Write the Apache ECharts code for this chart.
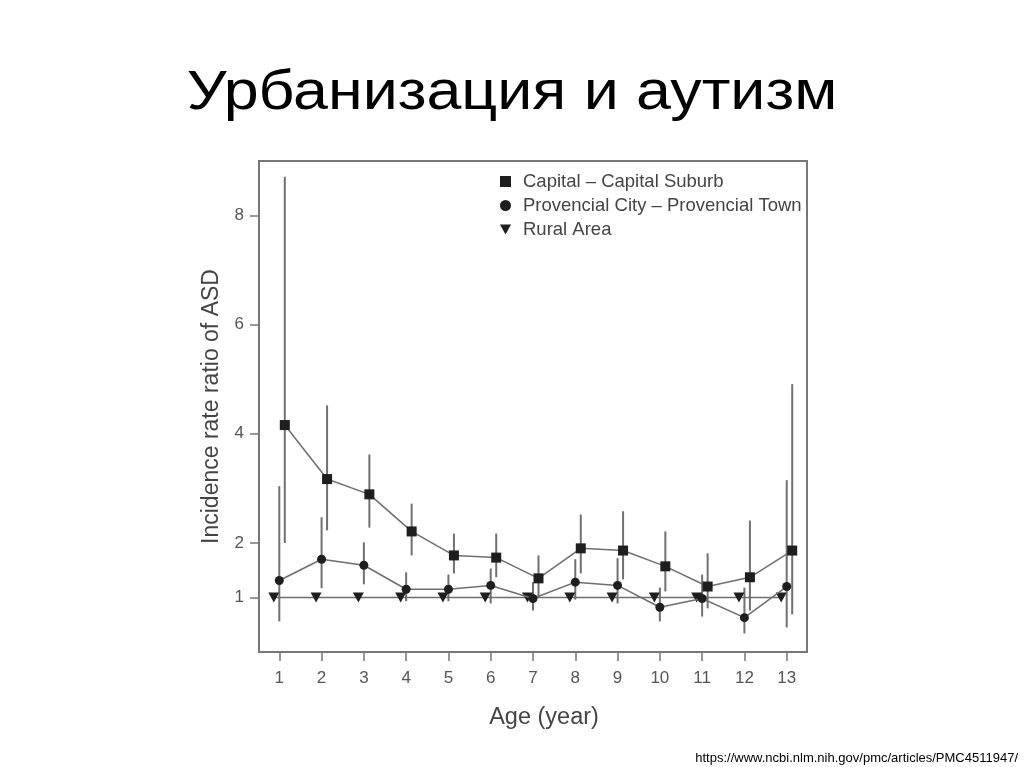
<!DOCTYPE html>
<html>
<head>
<meta charset="utf-8">
<script src="https://cdn.jsdelivr.net/npm/echarts@6/dist/echarts.min.js"></script>
<style>
html,body{margin:0;padding:0;background:#fff;}
#c{width:1024px;height:767px;}
</style>
</head>
<body>
<div id="c"></div>
<script>
var ages = [1,2,3,4,5,6,7,8,9,10,11,12,13];
var capital     = [4.16,3.17,2.89,2.21,1.77,1.73,1.35,1.90,1.86,1.57,1.20,1.37,1.86];
var capitalLow  = [2.00,2.23,2.28,1.77,1.44,1.37,1.02,1.44,1.33,1.11,0.80,0.76,0.69];
var capitalHigh = [8.71,4.52,3.62,2.72,2.17,2.17,1.77,2.52,2.58,2.21,1.81,2.41,4.91];
var province     = [1.31,1.70,1.59,1.15,1.15,1.22,0.98,1.28,1.22,0.82,0.98,0.63,1.20];
var provinceLow  = [0.56,1.17,1.24,0.93,0.93,0.89,0.76,0.96,0.89,0.56,0.65,0.34,0.45];
var provinceHigh = [3.04,2.47,2.01,1.46,1.42,1.53,1.28,1.70,1.72,1.18,1.42,1.18,3.15];
var rural = [1,1,1,1,1,1,1,1,1,1,1,1,1];
var yTicks = [1,2,4,6,8];
var seriesNames = ['Capital – Capital Suburb','Provencial City – Provencial Town','Rural Area'];
var titleText = 'Урбанизация и аутизм';
var sourceText = 'https://www.ncbi.nlm.nih.gov/pmc/articles/PMC4511947/';

var OFF_CAP = 0.13, OFF_PROV = 0, OFF_RUR = -0.13;
var triDown = 'path://M0,0 L10,0 L5,9 Z';
var markColor = '#1e1e1e', lineColor = '#6e6e6e';

function pts(vals, off){ return ages.map(function(a,i){ return [a+off, vals[i]]; }); }
function bars(lo, hi, off){ return ages.map(function(a,i){ return [a+off, lo[i], hi[i]]; }); }

function errRender(params, api){
  var x = api.value(0);
  var p1 = api.coord([x, api.value(1)]);
  var p2 = api.coord([x, api.value(2)]);
  return {type:'line', shape:{x1:p1[0],y1:p1[1],x2:p2[0],y2:p2[1]},
          style:{stroke:'#707070', lineWidth:2}};
}

var chart = echarts.init(document.getElementById('c'));
var font = 'Liberation Sans, Arial, sans-serif';
chart.setOption({
  backgroundColor:'#fff',
  animation:false,
  graphic:[
    {type:'text', x:512, y:66, scaleX:1.12, scaleY:1,
      style:{text:titleText, fontFamily:font, fontSize:56, fill:'#000', textAlign:'center', textVerticalAlign:'top'}},
    {type:'text', right:6, bottom:2,
      style:{text:sourceText, fontFamily:font, fontSize:13, fill:'#000'}}
  ],
  legend:{orient:'vertical', left:495, top:167, itemGap:5, itemWidth:11, itemHeight:11,
    textStyle:{fontFamily:font, fontSize:18.5, lineHeight:18, color:'#444', padding:[0,0,0,7]},
    data:[{name:seriesNames[0], icon:'rect', itemStyle:{color:markColor}},
          {name:seriesNames[1], icon:'circle', itemStyle:{color:markColor}},
          {name:seriesNames[2], icon:triDown, itemStyle:{color:markColor}}]},
  grid:{left:259, right:217, top:161, bottom:115, show:true, borderColor:'#777', borderWidth:2, backgroundColor:'#fff'},
  xAxis:{type:'value', min:0.52, max:13.48,
    name:'Age (year)', nameLocation:'middle', nameGap:54,
    nameTextStyle:{fontFamily:font, fontSize:23.5, color:'#444', padding:[0,0,0,22]},
    axisLine:{show:false},
    axisTick:{show:true, length:9, customValues:ages, lineStyle:{color:'#777', width:1.5}},
    axisLabel:{customValues:ages, margin:18, fontFamily:font, fontSize:17, color:'#555'},
    splitLine:{show:false}},
  yAxis:{type:'value', min:0, max:9,
    name:'Incidence rate ratio of ASD', nameLocation:'middle', nameGap:36,
    nameTextStyle:{fontFamily:font, fontSize:23, color:'#444'},
    axisLine:{show:false},
    axisTick:{show:true, length:9, customValues:yTicks, lineStyle:{color:'#777', width:1.5}},
    axisLabel:{customValues:yTicks, margin:15, fontFamily:font, fontSize:17, color:'#555'},
    splitLine:{show:false}},
  series:[
    {type:'custom', name:'errCap', renderItem:errRender, data:bars(capitalLow,capitalHigh,OFF_CAP), z:1, silent:true},
    {type:'custom', name:'errProv', renderItem:errRender, data:bars(provinceLow,provinceHigh,OFF_PROV), z:1, silent:true},
    {type:'line', name:seriesNames[2], data:pts(rural,OFF_RUR), symbol:triDown, symbolSize:[11,10],
      lineStyle:{color:lineColor, width:1.5}, itemStyle:{color:markColor}, z:3},
    {type:'line', name:seriesNames[1], data:pts(province,OFF_PROV), symbol:'circle', symbolSize:9,
      lineStyle:{color:lineColor, width:1.5}, itemStyle:{color:markColor}, z:4},
    {type:'line', name:seriesNames[0], data:pts(capital,OFF_CAP), symbol:'rect', symbolSize:10,
      lineStyle:{color:lineColor, width:1.5}, itemStyle:{color:markColor}, z:5}
  ]
});
</script>
</body>
</html>
